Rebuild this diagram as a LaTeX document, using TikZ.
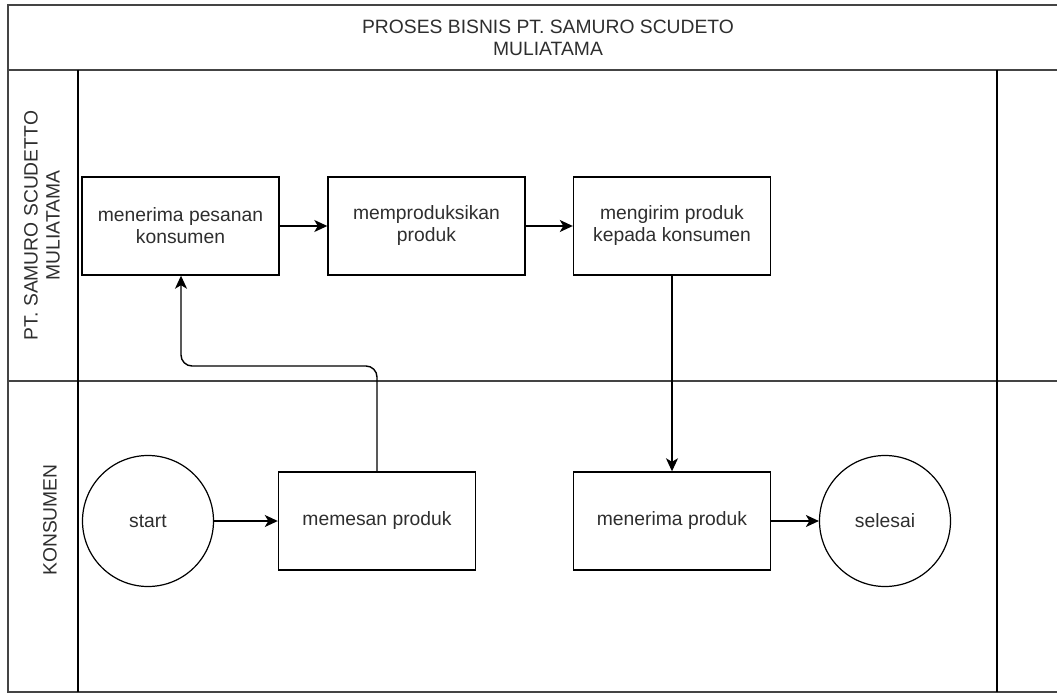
\documentclass[tikz,border=0pt]{standalone}
\usepackage{fontspec}
\setmainfont{Liberation Sans}
\usetikzlibrary{arrows.meta}
\definecolor{txt}{HTML}{2E2E2E}
\definecolor{frame}{HTML}{444444}
\tikzset{
  lbl/.style={font=\fontsize{19.3}{22}\selectfont, text=txt, align=center, inner sep=0pt},
  procbox/.style={draw=black, line width=1.4pt, minimum width=197pt, minimum height=98pt, inner sep=2pt, font=\fontsize{19.3}{22}\selectfont, text=txt, align=center},
  term/.style={draw=black, line width=1.2pt, circle, minimum size=131pt, inner sep=0pt, font=\fontsize{19.3}{22}\selectfont, text=txt},
  lane/.style={draw=frame, line width=1.3pt},
  lanev/.style={draw=black, line width=1.3pt},
  flow/.style={draw=black, line width=1.4pt, -{Stealth[length=13pt,width=12pt,inset=3.5pt]}}
}
\begin{document}
\begin{tikzpicture}[x=1pt,y=-1pt]
\useasboundingbox (0,0) rectangle (1057,693);
% frame
\path[lane] (1062,5) -- (8,5) -- (8,692) -- (1062,692);
\path[lane] (8,70) -- (1062,70);
\path[lane] (8,381) -- (1062,381);
\path[lanev] (78,70) -- (78,692);
\path[lanev] (997,70) -- (997,692);
% labels
\node[lbl] (title) at (548,37.5) {PROSES BISNIS PT. SAMURO SCUDETO\\MULIATAMA};
\node[lbl, rotate=90] (lane1) at (42,225.5) {PT. SAMURO SCUDETTO\\MULIATAMA};
\node[lbl, rotate=90] (lane2) at (50,520) {KONSUMEN};
% nodes
\node[procbox] (b1) at (180.5,226) {menerima pesanan\\konsumen};
\node[procbox] (b2) at (426.5,226) {memproduksikan\\produk};
\node[procbox] (b3) at (672,226) {mengirim produk\\kepada konsumen};
\node[term] (start) at (148,521) {start};
\node[procbox] (b4) at (377,521) {memesan produk};
\node[procbox] (b5) at (672,521) {menerima produk};
\node[term] (end) at (885,521) {selesai};
% connectors
\draw[flow] (b1) -- (b2);
\draw[flow] (b2) -- (b3);
\draw[flow] (start) -- (b4);
\draw[flow, rounded corners=11pt] (b4.north) -- (377,366) -- (181,366) -- (b1.south -| 181,0);
\draw[flow] (b3.south) -- (b5.north);
\draw[flow] (b5) -- (end);
\end{tikzpicture}
\end{document}
